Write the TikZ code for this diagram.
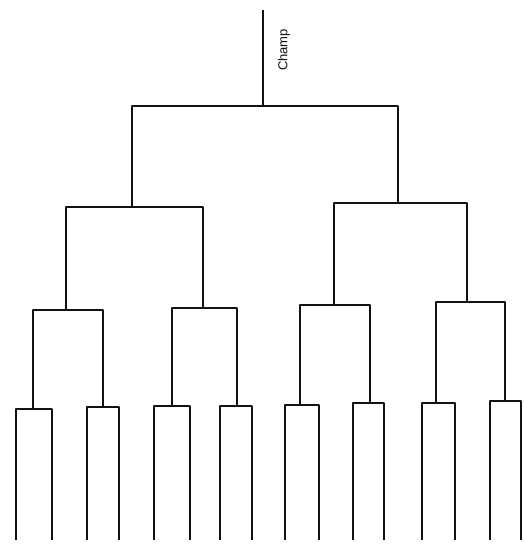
\documentclass[tikz,border=0pt]{standalone}
\usepackage{fontspec}
\setsansfont{Liberation Sans}
\definecolor{ink}{HTML}{111111}

\begin{document}
\begin{tikzpicture}[x=1pt, y=-1pt,
    bracket/.style={ink, line width=2.8pt, line join=round},
    champlabel/.style={font=\sffamily\fontsize{13}{15}\selectfont, ink, rotate=90}]
    \useasboundingbox (0,0) rectangle (523,544);

    % Final and champion
    \coordinate (top) at (263,10);
    \coordinate (final) at (263,106);

    % Semi finals and quarter finals
    \coordinate (sf1) at (132,207);
    \coordinate (sf2) at (398,203);
    \coordinate (qf1) at (66,310);
    \coordinate (qf2) at (203,308);
    \coordinate (qf3) at (334,305);
    \coordinate (qf4) at (467,302);

    % First round
    \coordinate (r1) at (33,409);
    \coordinate (r2) at (103,407);
    \coordinate (r3) at (172,406);
    \coordinate (r4) at (237,406);
    \coordinate (r5) at (300,405);
    \coordinate (r6) at (370,403);
    \coordinate (r7) at (436,403);
    \coordinate (r8) at (505,401);

    % Entrants
    \foreach \name/\x in {l1/16, l2/52, l3/87, l4/119, l5/154, l6/190, l7/220, l8/252,
                          l9/285, l10/319, l11/353, l12/384, l13/422, l14/455, l15/490, l16/521}
        \coordinate (\name) at (\x,540);

    % Draw the bracket
    \draw[bracket] (final) -- (top);
    \draw[bracket] (sf1) |- (final) -| (sf2);
    \draw[bracket] (qf1) |- (sf1) -| (qf2);
    \draw[bracket] (qf3) |- (sf2) -| (qf4);
    \draw[bracket] (r1) |- (qf1) -| (r2);
    \draw[bracket] (r3) |- (qf2) -| (r4);
    \draw[bracket] (r5) |- (qf3) -| (r6);
    \draw[bracket] (r7) |- (qf4) -| (r8);
    \draw[bracket] (l1) |- (r1) -| (l2);
    \draw[bracket] (l3) |- (r2) -| (l4);
    \draw[bracket] (l5) |- (r3) -| (l6);
    \draw[bracket] (l7) |- (r4) -| (l8);
    \draw[bracket] (l9) |- (r5) -| (l10);
    \draw[bracket] (l11) |- (r6) -| (l12);
    \draw[bracket] (l13) |- (r7) -| (l14);
    \draw[bracket] (l15) |- (r8) -| (l16);

    % Label
    \node[champlabel] (champ) at (284,50) {Champ};
\end{tikzpicture}
\end{document}
